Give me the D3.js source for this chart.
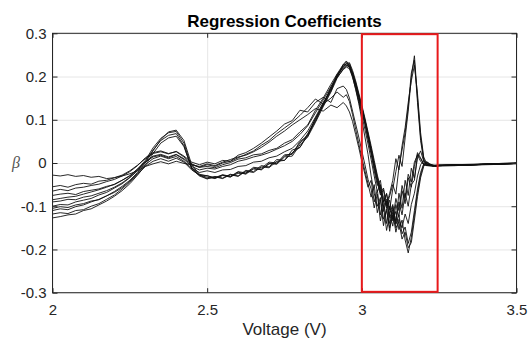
<!DOCTYPE html>
<html>
<head>
<meta charset="utf-8">
<script src="https://cdn.jsdelivr.net/npm/d3@7"></script>
<style>
  body { margin: 0; background: #fff; }
  svg { display: block; font-family: "Liberation Sans", Arial, Helvetica, sans-serif; }
  .grid line { stroke: #e6e6e6; stroke-width: 1; }
  .grid path { display: none; }
  .axis path { display: none; }
  .axis line { stroke: #262626; }
  .axis text { fill: #262626; font-size: 15px; }
</style>
</head>
<body>
<svg></svg>
<script>
// shared voltage grid (V)
const voltage = [
  2.000, 2.025, 2.050, 2.075, 2.100, 2.125, 2.150, 2.175, 2.200, 2.225,
  2.250, 2.275, 2.300, 2.325, 2.350, 2.375, 2.400, 2.425, 2.450, 2.475,
  2.500, 2.525, 2.550, 2.575, 2.600, 2.625, 2.650, 2.675, 2.700, 2.725,
  2.750, 2.775, 2.800, 2.825, 2.850, 2.875, 2.900,
  2.92, 2.94, 2.95, 2.96, 2.97, 2.98, 2.99,
  3.00, 3.01, 3.02, 3.03, 3.04, 3.05, 3.06, 3.07, 3.08, 3.09,
  3.10, 3.11, 3.12, 3.13, 3.14, 3.15, 3.16, 3.17, 3.18, 3.19,
  3.20, 3.21, 3.22, 3.23, 3.24, 3.25,
  3.30, 3.35, 3.40, 3.45, 3.50
];

// regression coefficients, one array per model
const coef1 = [
  -0.028, -0.030, -0.027, -0.031, -0.029, -0.033, -0.031, -0.036, -0.034, -0.030,
  -0.025, -0.018, -0.008, -0.002, 0.003, -0.002, 0.004, -0.001, -0.004, -0.010,
  -0.004, -0.008, 0.000, 0.004, 0.012, 0.020, 0.028, 0.041, 0.052, 0.068,
  0.081, 0.094, 0.110, 0.128, 0.148, 0.136, 0.150,
  0.164, 0.152, 0.158, 0.142, 0.112, 0.078, 0.045,
  0.012, -0.018, -0.048, -0.079, -0.050, -0.115, -0.085, -0.145, -0.105, -0.158,
  -0.100, -0.135, -0.070, -0.105, -0.040, -0.075, -0.012, -0.035, 0.012, 0.028,
  0.004, -0.003, -0.006, -0.005, -0.007, -0.006,
  -0.005, -0.004, -0.003, -0.002, -0.001
];
const coef2 = [
  -0.055, -0.052, -0.056, -0.050, -0.047, -0.049, -0.042, -0.040, -0.034, -0.028,
  -0.018, -0.005, 0.010, 0.022, 0.026, 0.021, 0.027, 0.016, 0.002, -0.004,
  0.002, -0.002, 0.006, 0.004, 0.018, 0.024, 0.034, 0.046, 0.060, 0.074,
  0.090, 0.098, 0.122, 0.118, 0.140, 0.152, 0.140,
  0.172, 0.178, 0.170, 0.150, 0.120, 0.090, 0.060,
  0.028, -0.004, -0.038, -0.060, -0.104, -0.072, -0.134, -0.100, -0.156, -0.118,
  -0.146, -0.096, -0.124, -0.064, -0.094, -0.034, -0.056, -0.008, 0.024, 0.012,
  -0.002, -0.005, -0.004, -0.006, -0.005, -0.005,
  -0.004, -0.004, -0.002, -0.002, 0.000
];
const coef3 = [
  -0.075, -0.072, -0.070, -0.073, -0.066, -0.063, -0.060, -0.054, -0.050, -0.040,
  -0.030, -0.014, 0.002, 0.016, 0.020, 0.014, 0.020, 0.010, -0.004, -0.008,
  -0.002, -0.006, 0.002, 0.008, 0.014, 0.018, 0.026, 0.036, 0.048, 0.062,
  0.074, 0.088, 0.100, 0.112, 0.126, 0.120, 0.134,
  0.128, 0.140, 0.132, 0.118, 0.096, 0.066, 0.036,
  0.004, -0.026, -0.056, -0.040, -0.090, -0.062, -0.120, -0.086, -0.140, -0.100,
  -0.130, -0.082, -0.110, -0.052, -0.080, -0.026, -0.044, 0.002, 0.018, 0.004,
  -0.004, -0.006, -0.005, -0.007, -0.006, -0.006,
  -0.005, -0.004, -0.003, -0.002, -0.001
];
const coef4 = [
  -0.085, -0.082, -0.079, -0.077, -0.072, -0.067, -0.062, -0.056, -0.049, -0.040,
  -0.029, -0.014, 0.006, 0.035, 0.057, 0.070, 0.073, 0.046, -0.010, -0.028,
  -0.033, -0.036, -0.029, -0.031, -0.024, -0.024, -0.014, -0.015, -0.002, -0.001,
  0.016, 0.022, 0.046, 0.066, 0.102, 0.136, 0.172,
  0.201, 0.226, 0.234, 0.226, 0.210, 0.186, 0.158,
  0.130, 0.100, 0.068, 0.034, 0.000, -0.032, -0.062, -0.090, -0.070, -0.108,
  -0.060, -0.020, 0.018, -0.008, 0.058, 0.120, 0.198, 0.248, 0.150, 0.060,
  0.010, -0.004, -0.006, -0.008, -0.007, -0.007,
  -0.006, -0.005, -0.004, -0.003, -0.002
];
const coef5 = [
  -0.100, -0.096, -0.097, -0.090, -0.086, -0.082, -0.074, -0.068, -0.058, -0.048,
  -0.034, -0.018, 0.003, 0.030, 0.052, 0.064, 0.068, 0.040, -0.014, -0.030,
  -0.037, -0.031, -0.035, -0.026, -0.030, -0.017, -0.020, -0.006, -0.009, 0.008,
  0.006, 0.030, 0.036, 0.068, 0.098, 0.138, 0.168,
  0.204, 0.222, 0.230, 0.232, 0.214, 0.190, 0.162,
  0.134, 0.104, 0.072, 0.040, 0.006, -0.028, -0.056, -0.080, -0.100, -0.076,
  -0.050, -0.072, -0.010, 0.030, 0.070, 0.130, 0.208, 0.238, 0.140, 0.052,
  0.006, -0.006, -0.007, -0.006, -0.008, -0.006,
  -0.005, -0.005, -0.003, -0.002, -0.001
];
const coef6 = [
  -0.110, -0.106, -0.108, -0.101, -0.097, -0.090, -0.084, -0.076, -0.066, -0.054,
  -0.040, -0.022, 0.000, 0.028, 0.054, 0.072, 0.076, 0.052, -0.004, -0.026,
  -0.030, -0.034, -0.027, -0.031, -0.020, -0.023, -0.010, -0.012, 0.002, 0.000,
  0.019, 0.020, 0.050, 0.062, 0.104, 0.132, 0.176,
  0.198, 0.228, 0.226, 0.230, 0.208, 0.182, 0.154,
  0.126, 0.096, 0.062, 0.028, -0.006, -0.040, -0.070, -0.058, -0.096, -0.070,
  -0.040, 0.010, -0.016, 0.040, 0.082, 0.140, 0.190, 0.226, 0.160, 0.070,
  0.014, -0.002, -0.005, -0.007, -0.006, -0.005,
  -0.005, -0.004, -0.003, -0.001, 0.000
];
const coef7 = [
  -0.127, -0.124, -0.120, -0.118, -0.110, -0.106, -0.097, -0.088, -0.077, -0.064,
  -0.048, -0.028, -0.006, 0.022, 0.046, 0.058, 0.062, 0.038, -0.012, -0.028,
  -0.036, -0.032, -0.036, -0.027, -0.031, -0.019, -0.022, -0.009, -0.011, 0.004,
  0.006, 0.024, 0.036, 0.064, 0.096, 0.134, 0.166,
  0.202, 0.220, 0.226, 0.222, 0.204, 0.180, 0.152,
  0.120, 0.092, 0.058, 0.026, -0.012, -0.044, -0.074, -0.062, -0.104, -0.086,
  -0.134, -0.112, -0.154, -0.132, -0.178, -0.208, -0.172, -0.120, -0.068, -0.028,
  -0.004, 0.002, -0.003, -0.006, -0.005, -0.006,
  -0.005, -0.004, -0.003, -0.002, -0.001
];
const coef8 = [
  -0.065, -0.061, -0.064, -0.058, -0.056, -0.052, -0.049, -0.043, -0.038, -0.030,
  -0.020, -0.006, 0.012, 0.024, 0.028, 0.022, 0.026, 0.014, -0.002, -0.010,
  -0.008, -0.011, -0.004, 0.001, 0.009, 0.012, 0.019, 0.021, 0.029, 0.034,
  0.046, 0.054, 0.072, 0.088, 0.122, 0.150, 0.182,
  0.206, 0.228, 0.236, 0.224, 0.200, 0.170, 0.138,
  0.100, 0.060, 0.020, -0.030, -0.070, -0.100, -0.080, -0.130, -0.110, -0.150,
  -0.120, -0.140, -0.090, -0.120, -0.070, -0.100, -0.050, -0.040, 0.020, 0.010,
  -0.003, -0.006, -0.005, -0.006, -0.007, -0.005,
  -0.004, -0.004, -0.003, -0.002, -0.001
];
const coef9 = [
  -0.090, -0.088, -0.084, -0.085, -0.079, -0.076, -0.070, -0.064, -0.056, -0.046,
  -0.033, -0.016, 0.002, 0.014, 0.018, 0.012, 0.019, 0.008, -0.008, -0.016,
  -0.012, -0.014, -0.008, -0.004, 0.004, 0.008, 0.014, 0.018, 0.024, 0.032,
  0.040, 0.050, 0.066, 0.086, 0.116, 0.146, 0.176,
  0.204, 0.224, 0.230, 0.220, 0.202, 0.176, 0.146,
  0.116, 0.090, 0.054, 0.020, -0.018, -0.052, -0.040, -0.090, -0.072, -0.118,
  -0.096, -0.142, -0.120, -0.164, -0.148, -0.186, -0.160, -0.110, -0.060, -0.022,
  -0.002, 0.003, -0.002, -0.005, -0.006, -0.005,
  -0.004, -0.003, -0.002, -0.001, 0.000
];
const coef10 = [
  -0.118, -0.115, -0.117, -0.110, -0.108, -0.100, -0.094, -0.084, -0.074, -0.060,
  -0.044, -0.026, -0.008, 0.004, 0.010, 0.004, 0.011, 0.002, -0.016, -0.028,
  -0.029, -0.035, -0.028, -0.033, -0.021, -0.026, -0.012, -0.016, -0.001, -0.003,
  0.014, 0.016, 0.042, 0.060, 0.094, 0.130, 0.164,
  0.196, 0.218, 0.224, 0.226, 0.206, 0.184, 0.156,
  0.128, 0.098, 0.066, 0.032, -0.004, -0.036, -0.066, -0.100, -0.084, -0.126,
  -0.108, -0.150, -0.136, -0.176, -0.160, -0.196, -0.184, -0.132, -0.078, -0.034,
  -0.008, 0.001, -0.004, -0.006, -0.007, -0.006,
  -0.005, -0.004, -0.003, -0.002, -0.001
];
const coef11 = [
  -0.105, -0.101, -0.103, -0.097, -0.094, -0.088, -0.085, -0.076, -0.068, -0.057,
  -0.042, -0.024, -0.004, 0.010, 0.016, 0.010, 0.015, 0.004, -0.012, -0.022,
  -0.018, -0.022, -0.016, -0.015, -0.008, -0.006, 0.002, 0.004, 0.012, 0.016,
  0.026, 0.034, 0.052, 0.074, 0.106, 0.140, 0.170,
  0.198, 0.216, 0.222, 0.218, 0.198, 0.172, 0.142,
  0.110, 0.078, 0.044, 0.008, -0.030, -0.066, -0.050, -0.112, -0.088, -0.140,
  -0.114, -0.160, -0.130, -0.150, -0.118, -0.140, -0.096, -0.070, -0.030, -0.004,
  0.004, -0.001, -0.004, -0.005, -0.006, -0.006,
  -0.006, -0.005, -0.003, -0.002, -0.001
];
const seriesList = [coef1, coef2, coef3, coef4, coef5, coef6, coef7, coef8, coef9, coef10, coef11];

// axis ticks
const xTicks = [2, 2.5, 3, 3.5];
const xTickLabels = ['2', '2.5', '3', '3.5'];
const yTicks = [-0.3, -0.2, -0.1, 0, 0.1, 0.2, 0.3];
const yTickLabels = ['-0.3', '-0.2', '-0.1', '0', '0.1', '0.2', '0.3'];

// highlighted window (V, beta)
const boxVoltage = [3.0, 3.245];
const boxBeta = [-0.298, 0.298];

// layout
const W = 530, H = 339;
const plotLeft = 52.5, plotRight = 516.5, plotTop = 33.3, plotBottom = 292.7;

const svg = d3.select('svg')
    .attr('width', W)
    .attr('height', H);

const xScale = d3.scaleLinear().domain([2, 3.5]).range([plotLeft, plotRight]);
const yScale = d3.scaleLinear().domain([-0.3, 0.3]).range([plotBottom, plotTop]);

// grid lines
svg.append('g')
    .attr('class', 'grid')
    .attr('transform', `translate(0, ${plotBottom})`)
    .call(d3.axisBottom(xScale).tickValues(xTicks).tickSize(-(plotBottom - plotTop)).tickFormat(''));
svg.append('g')
    .attr('class', 'grid')
    .attr('transform', `translate(${plotLeft}, 0)`)
    .call(d3.axisLeft(yScale).tickValues(yTicks).tickSize(-(plotRight - plotLeft)).tickFormat(''));

// clip for the curves
svg.append('clipPath').attr('id', 'plot-clip')
  .append('rect')
    .attr('x', plotLeft).attr('y', plotTop)
    .attr('width', plotRight - plotLeft).attr('height', plotBottom - plotTop);

const line = d3.line()
    .x((d, i) => xScale(voltage[i]))
    .y(d => yScale(d));

svg.append('g')
    .attr('clip-path', 'url(#plot-clip)')
  .selectAll('path')
  .data(seriesList)
  .enter()
  .append('path')
    .attr('d', line)
    .attr('fill', 'none')
    .attr('stroke', '#111')
    .attr('stroke-width', 0.9)
    .attr('stroke-linejoin', 'round');

// axes, MATLAB style ticks pointing inward
svg.append('g')
    .attr('class', 'axis')
    .attr('transform', `translate(0, ${plotBottom})`)
    .call(d3.axisBottom(xScale).tickValues(xTicks).tickFormat((d, i) => xTickLabels[i])
        .tickSizeInner(-4.5).tickSizeOuter(0).tickPadding(12));
svg.append('g')
    .attr('class', 'axis')
    .attr('transform', `translate(0, ${plotTop})`)
    .call(d3.axisTop(xScale).tickValues(xTicks).tickFormat('')
        .tickSizeInner(-4.5).tickSizeOuter(0));
svg.append('g')
    .attr('class', 'axis')
    .attr('transform', `translate(${plotLeft}, 0)`)
    .call(d3.axisLeft(yScale).tickValues(yTicks).tickFormat((d, i) => yTickLabels[i])
        .tickSizeInner(-5).tickSizeOuter(0).tickPadding(6));
svg.append('g')
    .attr('class', 'axis')
    .attr('transform', `translate(${plotRight}, 0)`)
    .call(d3.axisRight(yScale).tickValues(yTicks).tickFormat('')
        .tickSizeInner(-5).tickSizeOuter(0));

// axes box
svg.append('rect')
    .attr('x', plotLeft).attr('y', plotTop)
    .attr('width', plotRight - plotLeft).attr('height', plotBottom - plotTop)
    .attr('fill', 'none')
    .attr('stroke', '#262626')
    .attr('stroke-width', 1);

// red highlight window
svg.append('rect')
    .attr('x', xScale(boxVoltage[0]))
    .attr('y', yScale(boxBeta[1]))
    .attr('width', xScale(boxVoltage[1]) - xScale(boxVoltage[0]))
    .attr('height', yScale(boxBeta[0]) - yScale(boxBeta[1]))
    .attr('fill', 'none')
    .attr('stroke', '#e8191b')
    .attr('stroke-width', 2);

// title and labels
svg.append('text')
    .attr('x', (plotLeft + plotRight) / 2)
    .attr('y', 27)
    .attr('text-anchor', 'middle')
    .attr('font-size', '17px')
    .attr('font-weight', 'bold')
    .attr('fill', '#000')
    .text('Regression Coefficients');

svg.append('text')
    .attr('x', (plotLeft + plotRight) / 2)
    .attr('y', 335)
    .attr('text-anchor', 'middle')
    .attr('font-size', '17px')
    .attr('fill', '#262626')
    .text('Voltage (V)');

svg.append('text')
    .attr('x', 16)
    .attr('y', yScale(0) + 5)
    .attr('text-anchor', 'middle')
    .attr('font-family', '"Liberation Serif", "DejaVu Serif", serif')
    .attr('font-style', 'italic')
    .attr('font-size', '16px')
    .attr('fill', '#555')
    .text('β');
</script>
</body>
</html>
